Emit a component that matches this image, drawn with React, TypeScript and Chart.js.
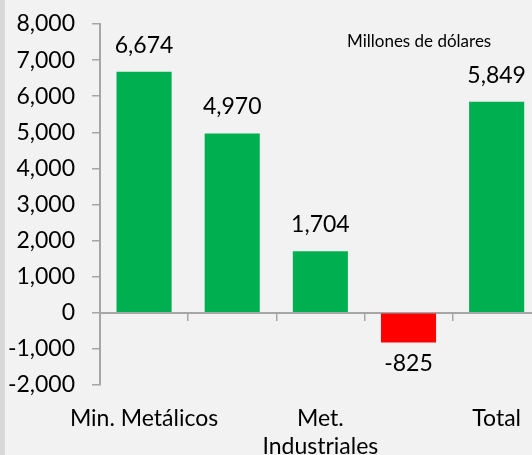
import React, { useEffect, useRef } from 'react';
import { Chart, registerables } from 'chart.js';

Chart.register(...registerables);

const categories: (string | string[])[] = ['Min. Metálicos', '', ['Met.', 'Industriales'], '', 'Total'];
const values: number[] = [6674, 4970, 1704, -825, 5849];
const yMin = -2000;
const yMax = 8000;
const yStep = 1000;
const unitLabel = 'Millones de dólares';

const positiveColor = '#00B050';
const negativeColor = '#FF0000';
const axisColor = '#A6A6A6';
const fontFamily = 'Lato, "Noto Sans", sans-serif';

const fmt = (v: number) => v.toLocaleString('en-US');

const valueLabels = {
  id: 'valueLabels',
  afterDatasetsDraw(chart: any) {
    const ctx = chart.ctx;
    const meta = chart.getDatasetMeta(0);
    ctx.save();
    ctx.font = `23px ${fontFamily}`;
    ctx.fillStyle = '#000';
    ctx.textAlign = 'center';
    ctx.textBaseline = 'alphabetic';
    meta.data.forEach((el: any, i: number) => {
      const v = values[i];
      if (v >= 0) {
        ctx.fillText(fmt(v), el.x, el.y - 19);
      } else {
        ctx.fillText(fmt(v), el.x, el.y + 28);
      }
    });
    ctx.font = `17px ${fontFamily}`;
    ctx.textAlign = 'left';
    ctx.fillText(unitLabel, 347, 47);
    ctx.restore();
  },
};

export default function App() {
  const canvasRef = useRef<HTMLCanvasElement | null>(null);

  useEffect(() => {
    if (!canvasRef.current) return;
    const chart = new Chart(canvasRef.current, {
      type: 'bar',
      data: {
        labels: categories,
        datasets: [
          {
            data: values,
            backgroundColor: values.map((v) => (v >= 0 ? positiveColor : negativeColor)),
            borderWidth: 0,
            barPercentage: 0.625,
            categoryPercentage: 1,
            xAxisID: 'x',
            yAxisID: 'y',
          },
        ],
      },
      options: {
        responsive: false,
        animation: false,
        devicePixelRatio: 1,
        layout: { padding: { top: 24, left: 0, right: 0, bottom: 0 } },
        plugins: { legend: { display: false }, tooltip: { enabled: false }, title: { display: false } },
        scales: {
          x: {
            type: 'category',
            position: { y: 0 } as any,
            offset: true,
            grid: {
              offset: true,
              drawOnChartArea: false,
              drawTicks: true,
              tickLength: 7,
              color: axisColor,
              lineWidth: 1.5,
            },
            border: { display: true, color: axisColor, width: 2 },
            ticks: { display: false },
            afterFit: (scale: any) => {
              scale.height = 0;
            },
          },
          x2: {
            type: 'category',
            position: 'bottom',
            offset: true,
            grid: { display: false, drawTicks: false },
            border: { display: false },
            ticks: {
              autoSkip: false,
              maxRotation: 0,
              minRotation: 0,
              padding: 20,
              color: '#000',
              font: { family: fontFamily, size: 23, lineHeight: 1.2 },
            },
            afterFit: (scale: any) => {
              scale.height = 70;
            },
          },
          y: {
            type: 'linear',
            min: yMin,
            max: yMax,
            grid: {
              drawOnChartArea: false,
              drawTicks: true,
              tickLength: 8,
              color: axisColor,
              lineWidth: 1.5,
            },
            border: { display: true, color: axisColor, width: 2 },
            ticks: {
              stepSize: yStep,
              padding: 17,
              color: '#000',
              font: { family: fontFamily, size: 23 },
              callback: (v: any) => fmt(Number(v)),
            },
            afterFit: (scale: any) => {
              scale.width = 100;
              scale.paddingTop = 0;
              scale.paddingBottom = 0;
            },
          },
        },
      },
      plugins: [valueLabels],
    });
    return () => chart.destroy();
  }, []);

  return (
    <div
      style={{
        position: 'fixed',
        left: 0,
        top: 0,
        width: 532,
        height: 455,
        overflow: 'hidden',
        background: '#F2F2F2',
      }}
    >
      <div style={{ position: 'absolute', left: 0, top: 0, width: 5, height: 455, background: '#D9D9D9' }} />
      <canvas ref={canvasRef} width={541} height={455} style={{ position: 'absolute', left: 0, top: 0 }} />
    </div>
  );
}
